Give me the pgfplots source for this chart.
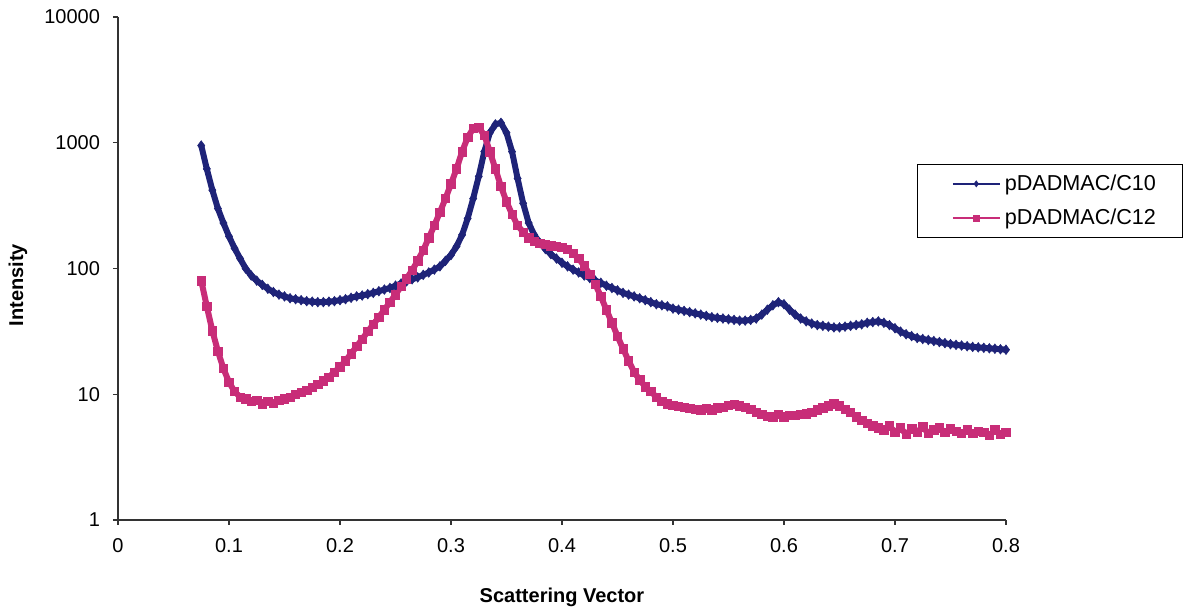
\documentclass[border=0pt]{standalone}
\usepackage{pgfplots}
\pgfplotsset{compat=1.18}
\usepackage{fontspec}
\setmainfont{Liberation Sans}
\definecolor{cblue}{RGB}{30,35,120}
\definecolor{cpink}{RGB}{200,45,120}
\begin{document}
\fontsize{10}{12}\selectfont
\begin{tikzpicture}
\useasboundingbox (-59pt,-44.5pt) rectangle (533.5pt,260pt);
\begin{axis}[
  at={(0,0)}, anchor=south west,
  scale only axis, width=444pt, height=251.5pt,
  ymode=log, xmin=0, xmax=0.8, ymin=1, ymax=10000,
  axis x line*=bottom, axis y line*=left,
  axis line style={line width=0.6pt, black!80},
  tick style={line width=0.6pt, black!80},
  tick align=outside, major tick length=2.5pt,
  yminorticks=false,
  xtick={0,0.1,0.2,0.3,0.4,0.5,0.6,0.7,0.8},
  xticklabels={0,0.1,0.2,0.3,0.4,0.5,0.6,0.7,0.8},
  ytick={1,10,100,1000,10000},
  yticklabels={1,10,100,1000,10000},
  /pgf/number format/assume math mode=true,
  ticklabel style={font=\fontsize{10}{12}\selectfont},
  xticklabel style={yshift=-3pt},
  yticklabel style={xshift=-3pt},
  xlabel={\textbf{Scattering Vector}},
  ylabel={\textbf{Intensity}},
  xlabel style={at={(axis description cs:0.5,-0.153)}, anchor=center, font=\fontsize{10}{12}\selectfont},
  ylabel style={at={(axis description cs:-0.1126,0.467)}, anchor=center, font=\fontsize{10}{12}\selectfont},
  clip=false,
  legend style={at={(0.9,0.708)}, anchor=north west, draw=black, line width=0.6pt, fill=white,
    font=\fontsize{10.8}{13}\selectfont, inner xsep=17pt, inner ysep=3pt, row sep=4pt,
    text width=70pt},
  legend cell align=left,
  legend image code/.code={\draw[#1, line width=1pt, mark size=1.5pt, mark repeat=2, mark phase=2] plot coordinates {(0pt,0pt) (11.75pt,0pt) (23.5pt,0pt)};},
]
\addplot[cblue, line width=3pt, mark=diamond*, mark size=2.4pt, mark options={solid, line width=0.3pt, fill=cblue}] coordinates {
(0.075,950)(0.080,620)(0.085,420)(0.090,300)(0.095,230)(0.100,180)(0.105,145)(0.110,120)(0.115,100)(0.120,88)
(0.125,80)(0.130,74)(0.135,69)(0.140,65)(0.145,62)(0.150,60)(0.155,58)(0.160,57)(0.165,56)(0.170,55)
(0.175,54.5)(0.180,54)(0.185,54)(0.190,54.5)(0.195,55)(0.200,56)(0.205,57)(0.210,58.5)(0.215,60)(0.220,61)
(0.225,62.5)(0.230,64)(0.235,66)(0.240,68)(0.245,70)(0.250,73)(0.255,76)(0.260,79)(0.265,82)(0.270,85)
(0.275,89)(0.280,93)(0.285,98)(0.290,104)(0.295,115)(0.300,128)(0.305,150)(0.310,185)(0.315,250)(0.320,360)
(0.325,540)(0.330,850)(0.335,1200)(0.340,1400)(0.345,1440)(0.350,1200)(0.355,850)(0.360,520)(0.365,330)(0.370,230)
(0.375,185)(0.380,160)(0.385,143)(0.390,130)(0.395,120)(0.400,111)(0.405,104)(0.410,98)(0.415,93)(0.420,88)
(0.425,84)(0.430,80)(0.435,77)(0.440,73)(0.445,70)(0.450,67)(0.455,64)(0.460,62)(0.465,60)(0.470,58)
(0.475,56)(0.480,54)(0.485,52)(0.490,51)(0.495,50)(0.500,48)(0.505,47)(0.510,46)(0.515,45)(0.520,44)
(0.525,43)(0.530,42)(0.535,41)(0.540,40.5)(0.545,40)(0.550,39.5)(0.555,39)(0.560,38.5)(0.565,38.5)(0.570,39)
(0.575,40)(0.580,43)(0.585,47)(0.590,51)(0.595,54)(0.600,52)(0.605,47)(0.610,43)(0.615,40)(0.620,38)
(0.625,36.5)(0.630,35.5)(0.635,35)(0.640,34.5)(0.645,34)(0.650,34)(0.655,34.5)(0.660,35)(0.665,35.5)(0.670,36)
(0.675,37)(0.680,37.5)(0.685,38)(0.690,37)(0.695,35.5)(0.700,33.5)(0.705,31.5)(0.710,30)(0.715,29)(0.720,28)
(0.725,27.5)(0.730,27)(0.735,26.5)(0.740,26)(0.745,25.5)(0.750,25)(0.755,24.7)(0.760,24.4)(0.765,24.1)(0.770,23.8)
(0.775,23.6)(0.780,23.4)(0.785,23.2)(0.790,23)(0.795,22.8)(0.800,22.6)
};
\addlegendentry{pDADMAC/C10}
\addplot[cpink, line width=3pt, mark=square*, mark size=2.1pt, mark options={solid, line width=0.3pt, fill=cpink}] coordinates {
(0.075,80)(0.080,50)(0.085,32)(0.090,22)(0.095,16)(0.100,12.5)(0.105,10.5)(0.110,9.5)(0.115,9.2)(0.120,8.8)
(0.125,9.0)(0.130,8.4)(0.135,8.8)(0.140,8.5)(0.145,9.0)(0.150,9.2)(0.155,9.5)(0.160,10)(0.165,10.4)(0.170,10.8)
(0.175,11.3)(0.180,12)(0.185,12.8)(0.190,13.7)(0.195,15)(0.200,16.5)(0.205,18.5)(0.210,21)(0.215,24)(0.220,27.5)
(0.225,31.5)(0.230,36)(0.235,41)(0.240,47)(0.245,54)(0.250,62)(0.255,72)(0.260,83)(0.265,97)(0.270,115)
(0.275,140)(0.280,175)(0.285,220)(0.290,280)(0.295,360)(0.300,470)(0.305,620)(0.310,850)(0.315,1100)(0.320,1300)
(0.325,1320)(0.330,1150)(0.335,850)(0.340,620)(0.345,450)(0.350,340)(0.355,270)(0.360,220)(0.365,195)(0.370,175)
(0.375,165)(0.380,158)(0.385,155)(0.390,152)(0.395,150)(0.400,147)(0.405,142)(0.410,132)(0.415,120)(0.420,105)
(0.425,90)(0.430,75)(0.435,60)(0.440,47)(0.445,37)(0.450,29)(0.455,23)(0.460,18.5)(0.465,15)(0.470,13)
(0.475,11.5)(0.480,10.5)(0.485,9.5)(0.490,8.8)(0.495,8.4)(0.500,8.2)(0.505,8.0)(0.510,7.9)(0.515,7.7)(0.520,7.6)
(0.525,7.5)(0.530,7.7)(0.535,7.5)(0.540,7.8)(0.545,7.9)(0.550,8.2)(0.555,8.3)(0.560,8.1)(0.565,7.9)(0.570,7.6)
(0.575,7.2)(0.580,6.9)(0.585,6.7)(0.590,6.6)(0.595,6.9)(0.600,6.6)(0.605,6.8)(0.610,6.8)(0.615,6.9)(0.620,7.0)
(0.625,7.2)(0.630,7.5)(0.635,7.8)(0.640,8.1)(0.645,8.4)(0.650,8.1)(0.655,7.6)(0.660,7.2)(0.665,6.6)(0.670,6.2)
(0.675,5.9)(0.680,5.6)(0.685,5.4)(0.690,5.2)(0.695,5.6)(0.700,5.0)(0.705,5.4)(0.710,4.8)(0.715,5.3)(0.720,5.0)
(0.725,5.5)(0.730,4.9)(0.735,5.2)(0.740,5.4)(0.745,5.0)(0.750,5.3)(0.755,5.1)(0.760,4.9)(0.765,5.2)(0.770,4.9)
(0.775,5.1)(0.780,5.0)(0.785,4.7)(0.790,5.2)(0.795,4.8)(0.800,5.0)
};
\addlegendentry{pDADMAC/C12}
\end{axis}
\end{tikzpicture}
\end{document}
